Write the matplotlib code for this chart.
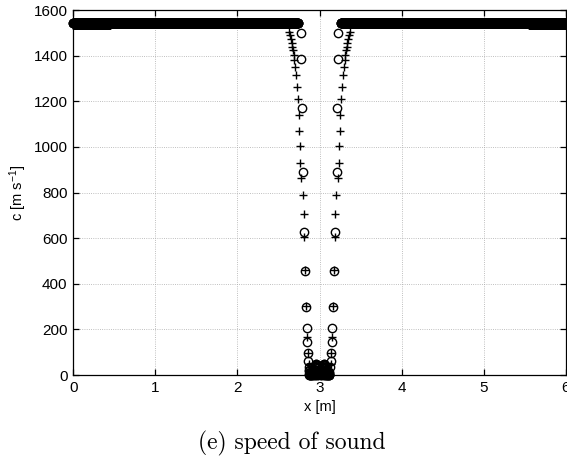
import numpy as np
import matplotlib
matplotlib.use("AGG")
import matplotlib.pyplot as plt

# speed of sound in water away from the gas column [m/s]
c_water = 1545
c_water_edge = 1534
dx_mesh = 0.002

# undisturbed stretches of the two solutions (x start, x end)
circ_plateau = [(0.0, 2.74), (3.26, 6.0)]
plus_plateau = [(0.45, 2.62), (3.38, 5.55)]
plus_edge = [(0.0, 0.45), (5.55, 6.0)]

# circles: transition into the gas column
x_circ_left = [2.770, 2.774, 2.781, 2.793, 2.806, 2.823, 2.835, 2.842, 2.847, 2.854, 2.863, 2.875]
c_circ_left = [1499, 1385, 1170, 892, 626, 456, 300, 208, 146, 95, 61, 36]
x_circ_right = [3.230, 3.226, 3.219, 3.207, 3.194, 3.177, 3.165, 3.158, 3.153, 3.146, 3.137, 3.125]
c_circ_right = [1499, 1385, 1170, 892, 626, 456, 300, 208, 146, 95, 61, 36]

# circles: inside the gas column
x_core = [2.870, 2.875, 2.880, 2.885, 2.890, 2.895, 2.900, 2.905, 2.910, 2.915, 2.920, 2.925,
          2.930, 2.935, 2.940, 2.945, 2.950, 2.955, 2.960, 2.965, 2.970, 2.975, 2.980, 2.985,
          2.990, 2.995, 3.000, 3.005, 3.010, 3.015, 3.020, 3.025, 3.030, 3.035, 3.040, 3.045,
          3.050, 3.055, 3.060, 3.065, 3.070, 3.075, 3.080, 3.085, 3.090, 3.095, 3.100, 3.105,
          3.110, 3.115, 3.120]
c_core = [22, 16, 12, 9, 7, 5, 4, 4, 5, 7, 10, 14,
          20, 27, 34, 40, 45, 48, 47, 43, 37, 30, 24, 20,
          17, 15, 15, 16, 18, 21, 25, 29, 34, 38, 42, 45,
          47, 48, 46, 42, 36, 29, 22, 16, 11, 8, 6, 5,
          6, 9, 14]
c_core_low = [3, 2, 1, 1, 2, 3, 2, 1, 1, 2, 3, 4,
              4, 3, 2, 2, 3, 4, 5, 4, 3, 2, 2, 3,
              4, 5, 5, 4, 3, 2, 2, 3, 4, 5, 4, 3,
              2, 2, 3, 4, 4, 3, 2, 1, 1, 2, 3, 2,
              1, 1, 2]

# crosses: transition into the gas column
x_plus_left = [2.632, 2.640, 2.652, 2.660, 2.664, 2.672, 2.684, 2.692, 2.705, 2.713, 2.725, 2.737,
               2.745, 2.753, 2.757, 2.762, 2.778, 2.794, 2.806, 2.814, 2.823, 2.835, 2.847, 2.856, 2.866]
c_plus_left = [1506, 1491, 1472, 1455, 1440, 1425, 1403, 1382, 1352, 1316, 1262, 1209,
               1140, 1071, 1004, 928, 863, 789, 706, 604, 460, 303, 168, 95, 50]
x_plus_right = [3.368, 3.360, 3.348, 3.340, 3.336, 3.328, 3.316, 3.308, 3.295, 3.287, 3.275, 3.263,
                3.255, 3.247, 3.243, 3.238, 3.222, 3.206, 3.194, 3.186, 3.177, 3.165, 3.153, 3.144, 3.134]
c_plus_right = [1506, 1491, 1472, 1455, 1440, 1425, 1403, 1382, 1352, 1316, 1262, 1209,
                1140, 1071, 1004, 928, 863, 789, 706, 604, 460, 303, 168, 95, 50]

x_ticks = [0, 1, 2, 3, 4, 5, 6]
y_ticks = [0, 200, 400, 600, 800, 1000, 1200, 1400, 1600]


def meshPoints(segments, value):
	xs = []
	for (x0, x1) in segments:
		xs.append(np.arange(x0, x1 + 1e-9, dx_mesh))
	xs = np.concatenate(xs)
	return xs, np.full(len(xs), value)


plt.rcParams['font.family'] = ['Liberation Sans', 'DejaVu Sans']
plt.rcParams['mathtext.default'] = 'regular'

fig = plt.figure(figsize=(5.67, 4.59), dpi=100)
ax = fig.add_axes([0.129, 0.183, 0.869, 0.795])

xc_flat, cc_flat = meshPoints(circ_plateau, c_water)
xp_flat, cp_flat = meshPoints(plus_plateau, c_water)
xp_edge, cp_edge = meshPoints(plus_edge, c_water_edge)

x_circ = np.concatenate([xc_flat, x_circ_left, x_core, x_core, x_circ_right])
c_circ = np.concatenate([cc_flat, c_circ_left, c_core, c_core_low, c_circ_right])
x_plus = np.concatenate([xp_edge, xp_flat, x_plus_left, x_plus_right])
c_plus = np.concatenate([cp_edge, cp_flat, c_plus_left, c_plus_right])

ax.plot(x_plus, c_plus, linestyle="none", marker="+", markersize=6, mew=1.0,
	color="black", clip_on=False, zorder=3)
ax.plot(x_circ, c_circ, linestyle="none", marker="o", markersize=6, mew=1.0,
	mfc="none", mec="black", clip_on=False, zorder=4)

ax.set_xlim(0, 6)
ax.set_ylim(0, 1600)
ax.set_xticks(x_ticks)
ax.set_yticks(y_ticks)
ax.tick_params(direction="in", top=True, right=True, length=4, width=0.9,
	labelsize=11, pad=4)
ax.grid(True, linestyle=":", color="#aaaaaa", linewidth=0.6)
ax.set_axisbelow(True)
for sp in ax.spines.values():
	sp.set_linewidth(0.9)

ax.set_xlabel("x [m]", fontsize=10.5, labelpad=4)
ax.set_ylabel("c [m s$^{-1}$]", fontsize=10.5, labelpad=3)

fig.text(0.515, 0.02, "(e) speed of sound", family="cmr10", fontsize=17,
	ha="center", va="baseline")

fig.savefig("out.png", dpi=100)
